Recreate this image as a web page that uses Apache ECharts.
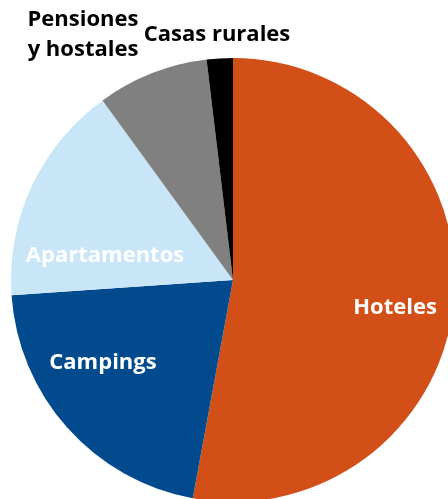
<!DOCTYPE html>
<html>
<head>
<meta charset="utf-8">
<script src="https://cdn.jsdelivr.net/npm/echarts@6/dist/echarts.min.js"></script>
<style>
  html, body { margin: 0; padding: 0; background: #fff; }
  #chart { width: 448px; height: 499px; }
</style>
</head>
<body>
<div id="chart"></div>
<script>
// datos (porcentaje aproximado)
var categorias = ['Hoteles', 'Campings', 'Apartamentos', 'Pensiones\ny hostales', 'Casas rurales'];
var valores = [52.9, 21.0, 16.1, 8.1, 1.9];
var colores = ['#D24F17', '#004A8D', '#C9E6F8', '#808080', '#000000'];
var colorTexto = ['#ffffff', '#ffffff', '#ffffff', '#000000', '#000000'];
// posiciones de etiquetas (centro del texto)
var posEtiquetas = [[395, 308], [103, 363], [105, 256], [83, 35], [217, 35]];

var chart = echarts.init(document.getElementById('chart'));

var datos = [];
for (var i = 0; i < categorias.length; i++) {
    datos.push({
        name: categorias[i],
        value: valores[i],
        itemStyle: { color: colores[i] },
        label: { color: colorTexto[i] }
    });
}

chart.setOption({
    animation: false,
    series: [{
        type: 'pie',
        center: [233, 280],
        radius: 222,
        startAngle: 90,
        clockwise: true,
        itemStyle: { borderWidth: 0 },
        label: {
            show: true,
            position: 'inside',
            formatter: '{b}',
            fontFamily: 'Open Sans',
            fontWeight: 'bold',
            fontSize: 22,
            lineHeight: 30,
            align: 'left'
        },
        labelLine: { show: false },
        labelLayout: function (p) {
            var pos = posEtiquetas[p.dataIndex];
            return { x: pos[0], y: pos[1], align: 'center', verticalAlign: 'middle' };
        },
        data: datos
    }]
});
</script>
</body>
</html>
